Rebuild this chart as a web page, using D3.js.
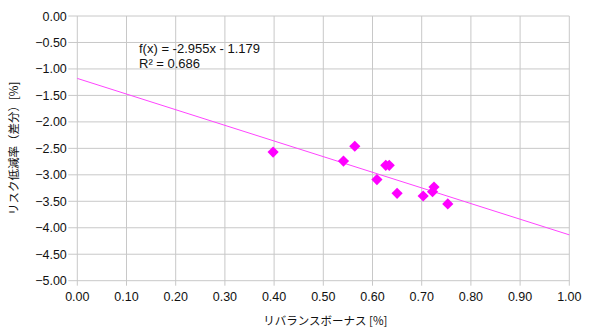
<!DOCTYPE html>
<html><head><meta charset="utf-8">
<script src="https://cdn.jsdelivr.net/npm/d3@7"></script>
<style>body{margin:0;background:#fff}svg{display:block}</style>
</head><body>
<svg id="c" width="600" height="335"></svg>
<script>
const xValues = [0.398, 0.541, 0.564, 0.609, 0.627, 0.634, 0.650, 0.703, 0.722, 0.725, 0.753];
const yValues = [-2.57, -2.74, -2.46, -3.09, -2.82, -2.82, -3.35, -3.40, -3.32, -3.23, -3.55];
const xTicks = [0,0.1,0.2,0.3,0.4,0.5,0.6,0.7,0.8,0.9,1.0];
const yTicks = [0,-0.5,-1,-1.5,-2,-2.5,-3,-3.5,-4,-4.5,-5];
const slope = -2.955, intercept = -1.179;
const eqLabel = "f(x) = -2.955x - 1.179";
const r2Label = "R² = 0.686";
const xTitle = "リバランスボーナス [%]";
const yTitle = "リスク低減率（差分）[%]";

const svg = d3.select("#c");
const L = 77.3, R = 569.3, T = 16, B = 280.7;
const x = d3.scaleLinear().domain([0,1]).range([L,R]);
const y = d3.scaleLinear().domain([-5,0]).range([B,T]);
const font = "'Liberation Sans', Arial, sans-serif";
const grid = "#c8c8c8";

svg.append("g").selectAll("line").data(yTicks).join("line")
  .attr("x1", L-9).attr("x2", R).attr("y1", d=>y(d)).attr("y2", d=>y(d))
  .attr("stroke", grid).attr("stroke-width", 1);
svg.append("g").selectAll("line").data(xTicks).join("line")
  .attr("x1", d=>x(d)).attr("x2", d=>x(d)).attr("y1", T).attr("y2", B+5)
  .attr("stroke", grid).attr("stroke-width", 1);

svg.append("g").selectAll("text").data(yTicks).join("text")
  .attr("x", L-10.5).attr("y", d=>y(d)).attr("dy","0.36em")
  .attr("text-anchor","end").attr("font-family",font).attr("font-size",12.5).attr("fill","#111")
  .text(d=>d3.format(".2f")(d));
svg.append("g").selectAll("text").data(xTicks).join("text")
  .attr("x", d=>x(d)).attr("y", B+20.5)
  .attr("text-anchor","middle").attr("font-family",font).attr("font-size",12.5).attr("fill","#111")
  .text(d=>d3.format(".2f")(d));

svg.append("line")
  .attr("x1", x(0)).attr("y1", y(intercept))
  .attr("x2", x(1)).attr("y2", y(slope+intercept))
  .attr("stroke","#ff44ff").attr("stroke-width",1);

const pts = xValues.map((v,i)=>[v,yValues[i]]);
svg.append("g").selectAll("path").data(pts).join("path")
  .attr("transform", d=>`translate(${x(d[0])},${y(d[1])})`)
  .attr("d", d3.symbol(d3.symbolDiamond2, 80))
  .attr("fill","#ff00ff");

svg.append("text").attr("x",139).attr("y",52.5).attr("font-family",font).attr("font-size",13).attr("fill","#111").text(eqLabel);
svg.append("text").attr("x",139).attr("y",68).attr("font-family",font).attr("font-size",13).attr("fill","#111").text(r2Label);

svg.append("text").attr("x",(L+R)/2+2).attr("y",325).attr("text-anchor","middle")
  .attr("font-family","'Noto Sans CJK JP', sans-serif").attr("font-size",11.5).attr("fill","#111").text(xTitle);
svg.append("text").attr("transform",`translate(18,${(T+B)/2}) rotate(-90)`).attr("text-anchor","middle")
  .attr("font-family","'Noto Sans CJK JP', sans-serif").attr("font-size",11.5).attr("fill","#111").text(yTitle);
</script>
</body></html>
